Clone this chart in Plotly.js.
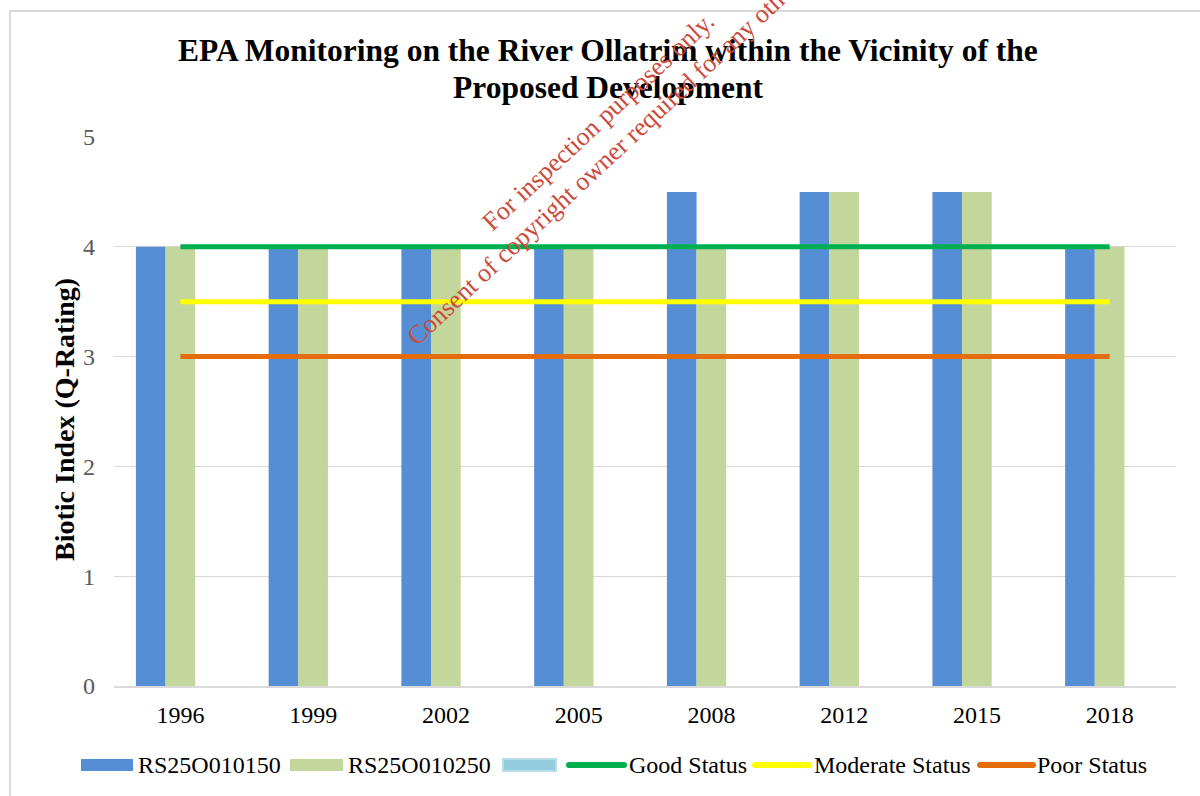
<!DOCTYPE html>
<html>
<head>
<meta charset="utf-8">
<script src="https://cdn.plot.ly/plotly-3.0.1.min.js"></script>
<style>html,body{margin:0;padding:0;background:#fff;}#chart{width:1200px;height:796px;}</style>
</head>
<body>
<div id="chart"></div>
<script>
const years = ['1996','1999','2002','2005','2008','2012','2015','2018'];
const rs150 = [4, 4, 4, 4, 4.5, 4.5, 4.5, 4];
const rs250 = [4, 4, 4, 4, 4, 4.5, 4.5, 4];
const rsBlank = [0, 0, 0, 0, 0, 0, 0, 0];
const goodStatus = [4, 4, 4, 4, 4, 4, 4, 4];
const moderateStatus = [3.5, 3.5, 3.5, 3.5, 3.5, 3.5, 3.5, 3.5];
const poorStatus = [3, 3, 3, 3, 3, 3, 3, 3];
const yTicks = [0, 1, 2, 3, 4, 5];
const barNames = ['RS25O010150', 'RS25O010250', ''];
const barColors = ['#558ED5', '#C3D69B', '#93CDDD'];
const lineNames = ['Good Status', 'Moderate Status', 'Poor Status'];
const lineColors = ['#00B050', '#FFFF00', '#E46C0A'];

const serif = "'Liberation Serif', 'Times New Roman', serif";

// px -> paper helpers (plot area 114..1176 x 137..686)
const px = v => (v - 114) / 1062;
const py = v => (686 - v) / 549;

const traces = [
  {type:'bar', name:barNames[0], x:years, y:rs150, marker:{color:barColors[0], line:{width:0}}},
  {type:'bar', name:barNames[1], x:years, y:rs250, marker:{color:barColors[1], line:{width:0}}},
  {type:'bar', name:barNames[2], x:years, y:rsBlank, marker:{color:barColors[2], line:{width:0}}},
  {type:'scatter', mode:'lines', name:lineNames[0], x:years, y:goodStatus, line:{color:lineColors[0], width:5}},
  {type:'scatter', mode:'lines', name:lineNames[1], x:years, y:moderateStatus, line:{color:lineColors[1], width:5}},
  {type:'scatter', mode:'lines', name:lineNames[2], x:years, y:poorStatus, line:{color:lineColors[2], width:5}}
];

// legend drawn as shapes + annotations (swatch left/right px, text left px)
const legY = 765;
const barLeg = [[81,133,137],[290,343,347],[503,556,560]];
const lineLeg = [[569,624,628],[755,809,813],[980,1033,1036]];
const shapes = [
  {type:'rect', xref:'paper', yref:'paper',
   x0:px(10), x1:px(1210), y0:py(810), y1:py(11),
   line:{color:'#D9D9D9', width:2}, fillcolor:'rgba(0,0,0,0)', layer:'below'}
];
const legendAnn = [];
barLeg.forEach((p, i) => {
  shapes.push({type:'rect', xref:'paper', yref:'paper', x0:px(p[0]), x1:px(p[1]),
    y0:py(legY+6), y1:py(legY-6), fillcolor:barColors[i],
    line:{color: i === 2 ? '#B7DEE8' : barColors[i], width: i === 2 ? 2 : 0}});
  if (barNames[i]) legendAnn.push({text:barNames[i], xref:'paper', yref:'paper', x:px(p[2]), y:py(legY),
    xanchor:'left', yanchor:'middle', showarrow:false, borderpad:0,
    font:{family:serif, size:24, color:'#000'}});
});
lineLeg.forEach((p, i) => {
  shapes.push({type:'line', xref:'paper', yref:'paper', x0:px(p[0]), x1:px(p[1]),
    y0:py(legY), y1:py(legY), line:{color:lineColors[i], width:6}});
  shapes.push({type:'circle', xref:'paper', yref:'paper', x0:px(p[0]-3), x1:px(p[0]+3),
    y0:py(legY+3), y1:py(legY-3), fillcolor:lineColors[i], line:{width:0}});
  shapes.push({type:'circle', xref:'paper', yref:'paper', x0:px(p[1]-3), x1:px(p[1]+3),
    y0:py(legY+3), y1:py(legY-3), fillcolor:lineColors[i], line:{width:0}});
  legendAnn.push({text:lineNames[i], xref:'paper', yref:'paper', x:px(p[2]), y:py(legY),
    xanchor:'left', yanchor:'middle', showarrow:false, borderpad:0,
    font:{family:serif, size:24, color:'#000'}});
});

const layout = {
  width:1200, height:796,
  paper_bgcolor:'#ffffff', plot_bgcolor:'#ffffff',
  margin:{l:114, r:24, t:137, b:110, autoexpand:false},
  barmode:'group', bargap:0.33, bargroupgap:0,
  font:{family:serif, color:'#000'},
  showlegend:false,
  xaxis:{
    type:'category', showgrid:false, showline:true, linecolor:'#D9D9D9', linewidth:2,
    tickfont:{family:serif, size:24, color:'#000'}, ticks:'', ticklabelstandoff:6
  },
  yaxis:{
    range:[0,5], tickvals:yTicks, showgrid:true, gridcolor:'#D9D9D9', gridwidth:1,
    zeroline:false, showline:false, ticks:'',
    tickfont:{family:serif, size:24, color:'#595959'}, ticklabelstandoff:18
  },
  shapes:shapes,
  annotations:[
    {text:'EPA Monitoring on the River Ollatrim within the Vicinity of the', xref:'paper', yref:'paper',
     x:px(608), y:py(50), xanchor:'center', yanchor:'middle', showarrow:false,
     font:{family:serif, size:31.5, color:'#000', weight:'bold'}},
    {text:'Proposed Development', xref:'paper', yref:'paper',
     x:px(608), y:py(87), xanchor:'center', yanchor:'middle', showarrow:false,
     font:{family:serif, size:31.5, color:'#000', weight:'bold'}},
    {text:'Biotic Index (Q-Rating)', xref:'paper', yref:'paper', x:px(64), y:py(420),
     xanchor:'center', yanchor:'middle', textangle:-90, showarrow:false,
     font:{family:serif, size:28, color:'#000', weight:'bold'}},
    ...legendAnn,
    {text:'For inspection purposes only.', xref:'paper', yref:'paper',
     x:px(598), y:py(121), xanchor:'center', yanchor:'middle',
     textangle:-43, showarrow:false, font:{family:serif, size:26, color:'#CC4A3B'}},
    {text:'Consent of copyright owner required for any other use.', xref:'paper', yref:'paper',
     x:px(620), y:py(145), xanchor:'center', yanchor:'middle',
     textangle:-43, showarrow:false, font:{family:serif, size:26, color:'#CC4A3B'}}
  ]
};

Plotly.newPlot('chart', traces, layout, {displayModeBar:false, staticPlot:true});
</script>
</body>
</html>
